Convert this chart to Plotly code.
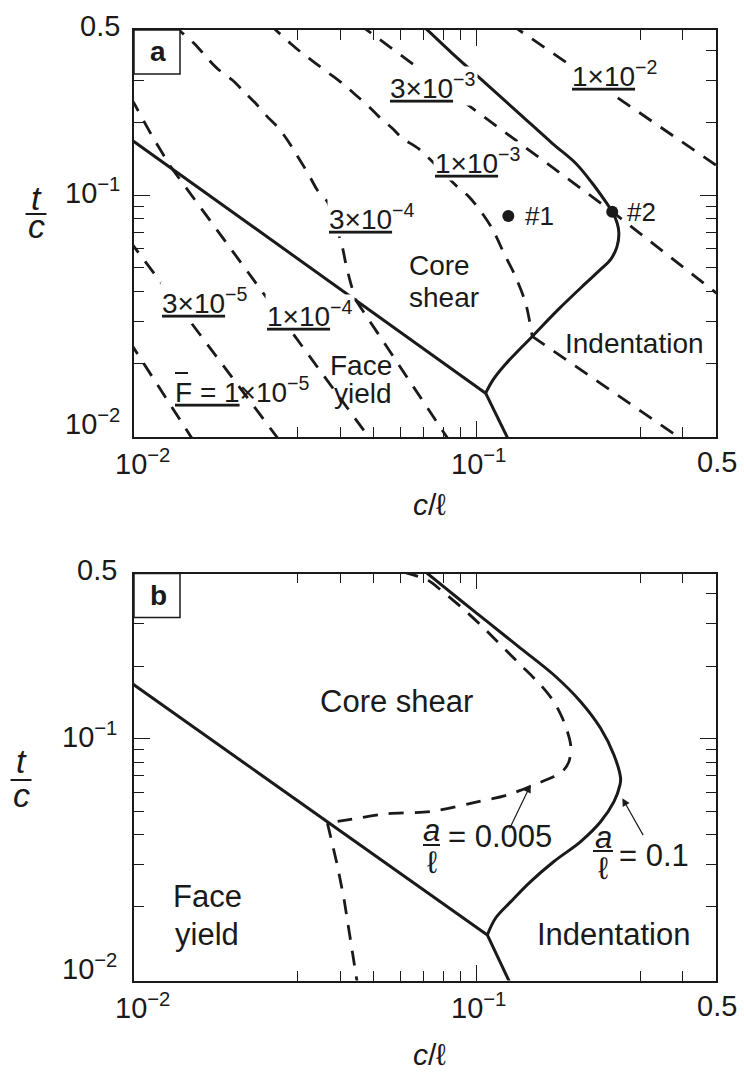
import math
import plotly.graph_objects as go

W, H = 744, 1072
FONT = "Liberation Sans, Arial, Helvetica, sans-serif"
INK = "#1a1a1a"

# ---------------- axes ----------------
X_RANGE = [0.01, 0.5]
Y_RANGE = [0.0099, 0.4855]
X_MAJOR = [0.1]
X_MINOR = [0.03, 0.04, 0.05, 0.06, 0.07, 0.08, 0.09, 0.3, 0.4]
Y_MAJOR = [0.1]
Y_MINOR = [0.02, 0.03, 0.04, 0.05, 0.06, 0.07, 0.08, 0.09, 0.2, 0.3, 0.4]
X_TICK_VALUES = [0.01, 0.1, 0.5]
X_TICK_TEXT = ["10<sup>−2</sup>", "10<sup>−1</sup>", "0.5"]
Y_TICK_VALUES = [0.5, 0.1, 0.01]
Y_TICK_TEXT = ["0.5", "10<sup>−1</sup>", "10<sup>−2</sup>"]

# ---------------- panel a: mechanism boundaries (c/l, t/c) ----------------
face_core_a_x = [0.0097, 0.1063]
face_core_a_y = [0.1723, 0.01505]
face_indent_a_x = [0.1063, 0.1255]
face_indent_a_y = [0.01505, 0.0093]
core_indent_a_x = [0.0687, 0.0718, 0.0849, 0.1063, 0.1330, 0.1663, 0.1947, 0.2177,
                   0.2381, 0.2489, 0.2574, 0.2603, 0.2569, 0.2467, 0.2277, 0.2072,
                   0.1739, 0.1454, 0.1216, 0.1117, 0.1063]
core_indent_a_y = [0.513, 0.4855, 0.3885, 0.2916, 0.2189, 0.1643, 0.1357, 0.1121,
                   0.0940, 0.0854, 0.0765, 0.0695, 0.0610, 0.0543, 0.0485, 0.0428,
                   0.0337, 0.0259, 0.0199, 0.0171, 0.01505]

# failure-load contours, F = 1e-5 ... 1e-2
F1_x = [0.0097, 0.0151]
F1_y = [0.0247, 0.0093]
F3_x = [0.0097, 0.0270]
F3_y = [0.0648, 0.0093]
F10_core_x = [0.0098, 0.0100, 0.0112, 0.01279]
F10_core_y = [0.253, 0.241, 0.180, 0.1314]
F10_face_x = [0.01279, 0.0500]
F10_face_y = [0.1314, 0.0093]
F30_core_x = [0.0130, 0.01353, 0.01514, 0.01637, 0.01770, 0.01936, 0.02095, 0.02265,
              0.02449, 0.02620, 0.02803, 0.02965, 0.03134, 0.03279, 0.03428, 0.03665,
              0.04055, 0.04149, 0.04291, 0.04438]
F30_core_y = [0.513, 0.4855, 0.4206, 0.3704, 0.3312, 0.3010, 0.2692, 0.2408,
              0.2120, 0.1926, 0.1696, 0.1493, 0.1314, 0.1176, 0.1051, 0.0940,
              0.0611, 0.0522, 0.0431, 0.0367]
F30_face_x = [0.04438, 0.0843]
F30_face_y = [0.0367, 0.0093]
F100_core_x = [0.0248, 0.02592, 0.02898, 0.03099, 0.03391, 0.03708, 0.04055, 0.04438,
               0.04852, 0.05188, 0.05674, 0.06068, 0.06789, 0.08785, 0.09502, 0.1039,
               0.1117, 0.1202, 0.1286, 0.1391, 0.1454]
F100_core_y = [0.513, 0.4855, 0.4206, 0.3885, 0.3531, 0.3209, 0.2916, 0.2608,
               0.2332, 0.2120, 0.1897, 0.1723, 0.1556, 0.1085, 0.0986, 0.0841,
               0.0717, 0.0574, 0.0474, 0.0356, 0.0259]
F100_indent_x = [0.1454, 0.4144]
F100_indent_y = [0.0259, 0.0093]
F300_x = [0.0454, 0.2489, 0.513]
F300_y = [0.513, 0.0854, 0.0382]
F1000_x = [0.1257, 0.513]
F1000_y = [0.513, 0.1299]

# tested designs
design_x = [0.1238, 0.2489]
design_y = [0.0820, 0.0854]
design_names = ["#1", "#2"]

# ---------------- panel b: boundaries for two indenter sizes ----------------
face_core_b_x = [0.0097, 0.1075]
face_core_b_y = [0.1724, 0.01531]
face_indent_b_x = [0.1075, 0.1268]
face_indent_b_y = [0.01531, 0.0093]
core_indent_b_x = [0.0685, 0.0719, 0.0859, 0.1075, 0.1345, 0.1682, 0.2013, 0.2302,
                   0.2518, 0.2633, 0.2622, 0.2518, 0.2302, 0.2013, 0.1682, 0.1438,
                   0.1257, 0.1137, 0.1075]
core_indent_b_y = [0.513, 0.4855, 0.3954, 0.3062, 0.2374, 0.1839, 0.1425, 0.1105,
                   0.0856, 0.0685, 0.0643, 0.0548, 0.0452, 0.0374, 0.0309, 0.0255,
                   0.0210, 0.0180, 0.01531]
small_a_upper_x = [0.0612, 0.0719, 0.0786, 0.0899, 0.1028, 0.1176, 0.1345, 0.1538,
                   0.1682, 0.1799, 0.1882, 0.1861, 0.1780, 0.1682, 0.1471, 0.1230,
                   0.0961, 0.0735, 0.0549, 0.0420, 0.0367]
small_a_upper_y = [0.492, 0.4562, 0.4147, 0.3534, 0.2968, 0.2451, 0.2024, 0.1672,
                   0.1425, 0.1177, 0.0942, 0.0803, 0.0730, 0.0696, 0.0643, 0.0584,
                   0.0539, 0.0498, 0.0488, 0.0460, 0.0446]
small_a_lower_x = [0.0367, 0.0392, 0.0410, 0.0450]
small_a_lower_y = [0.0446, 0.0299, 0.0217, 0.0094]

# arrow (head, tail) positions for the a/l call-outs
arrow_small = [(0.1438, 0.0643), (0.1243, 0.0418)]
arrow_large = [(0.2664, 0.0566), (0.3081, 0.0392)]

# ---------------- layout frame (pixels) ----------------
X_LEFT, X_RIGHT = 134, 716
A_TOP, A_BOT = 30, 437
B_TOP, B_BOT = 573.5, 980.5


def px(x):
    return x / W


def py(y):
    return 1 - y / H


def lg(v):
    return math.log10(v)


fig = go.Figure()
DASH = "15px,11px"


def add_line(xs, ys, panel, dashed=False, shape="linear", smoothing=0.8):
    sfx = "" if panel == 1 else "2"
    fig.add_trace(go.Scatter(
        x=xs, y=ys, mode="lines", xaxis="x" + sfx, yaxis="y" + sfx,
        line=dict(color=INK, width=2.8 if dashed else 3.0,
                  dash=DASH if dashed else "solid", shape=shape, smoothing=smoothing),
        hoverinfo="skip", showlegend=False))


# panel a curves
add_line(face_core_a_x, face_core_a_y, 1)
add_line(face_indent_a_x, face_indent_a_y, 1)
add_line(core_indent_a_x, core_indent_a_y, 1, shape="spline", smoothing=1.0)
add_line(F1_x, F1_y, 1, dashed=True)
add_line(F3_x, F3_y, 1, dashed=True)
add_line(F10_core_x, F10_core_y, 1, dashed=True, shape="spline")
add_line(F10_face_x, F10_face_y, 1, dashed=True)
add_line(F30_core_x, F30_core_y, 1, dashed=True, shape="spline")
add_line(F30_face_x, F30_face_y, 1, dashed=True)
add_line(F100_core_x, F100_core_y, 1, dashed=True, shape="spline")
add_line(F100_indent_x, F100_indent_y, 1, dashed=True)
add_line(F300_x, F300_y, 1, dashed=True)
add_line(F1000_x, F1000_y, 1, dashed=True)
fig.add_trace(go.Scatter(x=design_x, y=design_y, mode="markers", xaxis="x", yaxis="y",
                         marker=dict(color=INK, size=12), hoverinfo="skip",
                         showlegend=False))

# panel b curves
add_line(face_core_b_x, face_core_b_y, 2)
add_line(face_indent_b_x, face_indent_b_y, 2)
add_line(core_indent_b_x, core_indent_b_y, 2, shape="spline", smoothing=1.0)
add_line(small_a_upper_x, small_a_upper_y, 2, dashed=True, shape="spline")
add_line(small_a_lower_x, small_a_lower_y, 2, dashed=True)


def axis(domain, rng, major, minor, anchor):
    return dict(type="log", range=[lg(rng[0]), lg(rng[1])], domain=domain,
                showgrid=False, zeroline=False, showline=True, linecolor=INK,
                linewidth=1.6, mirror="ticks", ticks="inside", tickmode="array",
                tickvals=major, ticklen=16, tickwidth=1.4, tickcolor=INK,
                showticklabels=False, anchor=anchor,
                minor=dict(tickmode="array", tickvals=minor, ticks="inside",
                           ticklen=10, tickwidth=1.4, tickcolor=INK, showgrid=False))


ann = []
shapes = []


def text(t, x, y, size, xanchor="center", bg=None, yshift=0):
    d = dict(text=t, x=px(x), y=py(y), xref="paper", yref="paper", showarrow=False,
             xanchor=xanchor, yanchor="middle", yshift=yshift,
             font=dict(family=FONT, size=size, color=INK))
    if bg:
        d.update(bgcolor=bg, borderpad=1)
    ann.append(d)


def hline(x0, x1, y, width=2.0):
    shapes.append(dict(type="line", xref="paper", yref="paper", x0=px(x0), x1=px(x1),
                       y0=py(y), y1=py(y), line=dict(color=INK, width=width)))


# tick labels and axis titles for both panels
for top, bot, ylab_x, yshifts, ttl_x, ttl_c, ttl_t, ttl_bar, xt_y in [
        (A_TOP, A_BOT, 122, [1, 4, 14], 36, 226, 198, 214, 505),
        (B_TOP, B_BOT, 119, [0, 4, 12], 21, 795, 761, 780, 1054)]:
    dec = (bot - top) / (lg(Y_RANGE[1]) - lg(Y_RANGE[0]))
    for v, t, ys in zip(Y_TICK_VALUES, Y_TICK_TEXT, yshifts):
        ypix = bot - (lg(v) - lg(Y_RANGE[0])) * dec
        text(t, ylab_x, ypix, 29, xanchor="right", yshift=ys)
    xdec = (X_RIGHT - X_LEFT) / (lg(X_RANGE[1]) - lg(X_RANGE[0]))
    for v, t, dx in zip(X_TICK_VALUES, X_TICK_TEXT, [8, 2, 1]):
        xpix = X_LEFT + (lg(v) - lg(X_RANGE[0])) * xdec + dx
        text(t, xpix, bot + 27, 29, yshift=2)
    text("<i>t</i>", ttl_x, ttl_t, 34)
    text("<i>c</i>", ttl_x, ttl_c, 34)
    hline(ttl_x - 10.5, ttl_x + 10.5, ttl_bar)
    text("<i>c</i>/ℓ", 429, xt_y, 30)

# panel tags
for tag, top in [("a", A_TOP), ("b", B_TOP)]:
    shapes.append(dict(type="rect", xref="paper", yref="paper", x0=px(X_LEFT),
                       x1=px(180), y0=py(top), y1=py(top + 44),
                       line=dict(color=INK, width=1.5), fillcolor="white"))
    text("<b>%s</b>" % tag, 158, top + 22, 28)

# panel a contour labels
for t, x, y in [("<u>1×10</u><sup>−2</sup>", 570, 76),
                ("<u>3×10</u><sup>−3</sup>", 388, 88.5),
                ("<u>1×10</u><sup>−3</sup>", 433, 162.5),
                ("<u>3×10</u><sup>−4</sup>", 327, 218.5),
                ("<u>3×10</u><sup>−5</sup>", 160, 303),
                ("<u>1×10</u><sup>−4</sup>", 265, 316)]:
    text(t, x, y - 2, 28, xanchor="left", bg="white")
text("<u>F = 1</u>×10<sup>−5</sup>", 173, 390, 28, xanchor="left")
hline(175, 188, 373)
for name, x, y in zip(design_names, [523, 625], [216, 212]):
    text(name, x, y, 26, xanchor="left")

# panel a regions
text("Core", 439, 265.5, 28)
text("shear", 443.5, 297.5, 28)
text("Face", 361, 365.3, 28)
text("yield", 363, 393.5, 28)
text("Indentation", 634, 343.3, 28)

# panel b regions
text("Core shear", 396.7, 701, 31)
text("Face", 207.5, 896, 31)
text("yield", 207.5, 934.3, 31)
text("Indentation", 613.3, 934.3, 31)

# a/l call-outs
text("<i>a</i>", 431.5, 830, 31)
text("ℓ", 431.5, 862, 31)
hline(423, 440, 845)
text("= 0.005", 446, 836, 31, xanchor="left")
text("<i>a</i>", 603, 837, 31)
text("ℓ", 603, 868, 31)
hline(593, 613, 851)
text("= 0.1", 617, 855, 31, xanchor="left")

for head, tail in [arrow_small, arrow_large]:
    ann.append(dict(text="", x=lg(head[0]), y=lg(head[1]), ax=lg(tail[0]),
                    ay=lg(tail[1]), xref="x2", yref="y2", axref="x2", ayref="y2",
                    showarrow=True, arrowhead=2, arrowsize=1.3, arrowwidth=1.2,
                    arrowcolor=INK, standoff=0, startstandoff=0))

fig.update_layout(
    width=W, height=H, margin=dict(l=0, r=0, t=0, b=0),
    paper_bgcolor="white", plot_bgcolor="white", showlegend=False,
    xaxis=axis([px(X_LEFT), px(X_RIGHT)], X_RANGE, X_MAJOR, X_MINOR, "y"),
    yaxis=axis([py(A_BOT), py(A_TOP)], Y_RANGE, Y_MAJOR, Y_MINOR, "x"),
    xaxis2=axis([px(X_LEFT), px(X_RIGHT)], X_RANGE, X_MAJOR, X_MINOR, "y2"),
    yaxis2=axis([py(B_BOT), py(B_TOP)], Y_RANGE, Y_MAJOR, Y_MINOR, "x2"),
    annotations=ann, shapes=shapes,
)

fig.write_html("out.html")
